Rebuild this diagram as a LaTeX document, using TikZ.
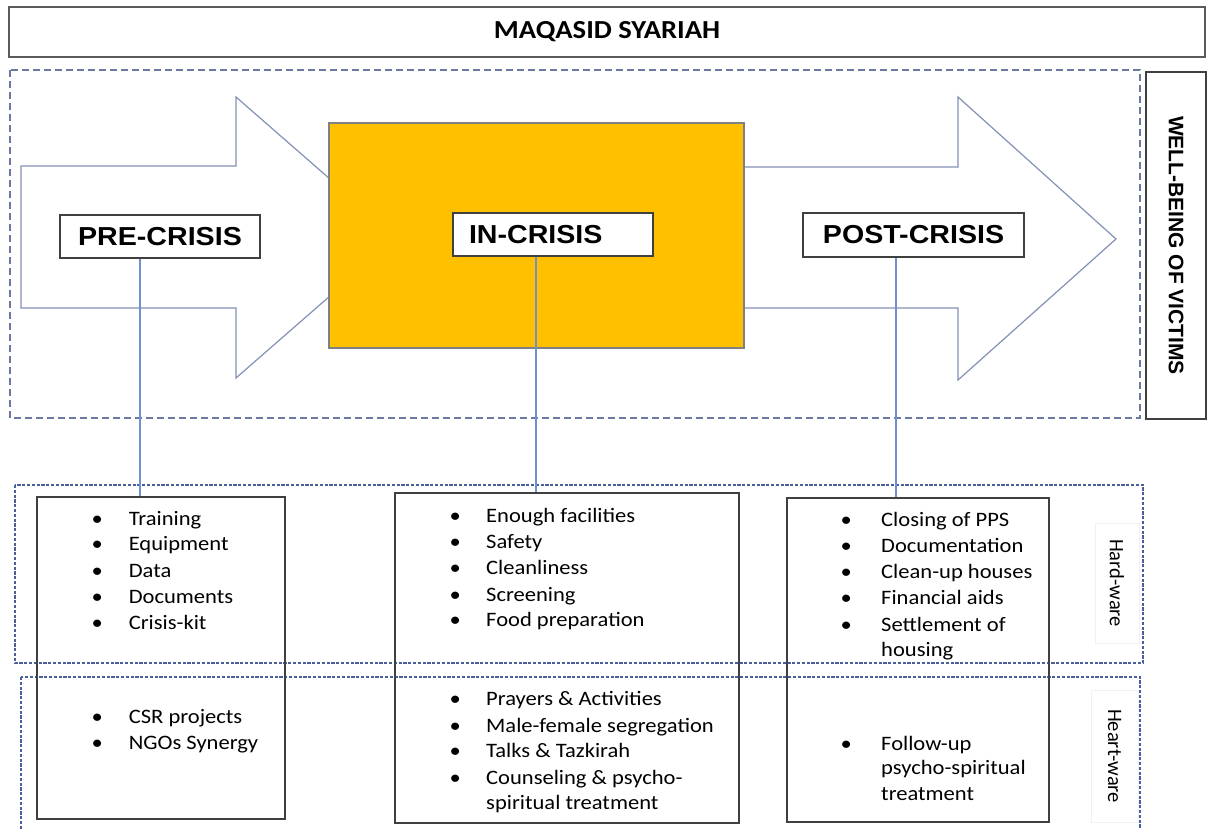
\documentclass[tikz,border=0pt]{standalone}
\usepackage{fontspec}
\newfontfamily\hfont[FakeStretch=1.1]{Liberation Sans}
\newfontfamily\wfont{Liberation Sans}
\newfontfamily\bfont[FakeStretch=1.1]{Carlito}
\newfontfamily\rfont{Carlito}
\definecolor{boxgray}{HTML}{404040}
\definecolor{titlegray}{HTML}{5A5A5A}
\definecolor{linkblue}{HTML}{7090CF}
\definecolor{arrowgray}{HTML}{8391B6}
\definecolor{dashgray}{HTML}{6B7BA0}
\definecolor{dashblue}{HTML}{4A5F9C}
\definecolor{crisisyellow}{HTML}{FFC000}
\definecolor{faint}{HTML}{F1F1F1}
\begin{document}
\begin{tikzpicture}[x=1pt,y=-1pt,
  title/.style={draw=titlegray, line width=1.3pt, fill=white, inner sep=0,
    minimum width=1196pt, minimum height=50pt,
    font=\bfont\bfseries\fontsize{26}{30}\selectfont},
  phase/.style={draw=boxgray, line width=1.2pt, fill=white, inner sep=0,
    font=\hfont\bfseries\fontsize{26}{30}\selectfont},
  listbox/.style={draw=boxgray, line width=1.2pt, inner sep=0},
  item/.style={anchor=base west, inner sep=0,
    font=\bfont\fontsize{20.5}{26}\selectfont},
  connector/.style={draw=linkblue, line width=1.2pt},
  bigarrow/.style={draw=arrowgray, line width=1.2pt, fill=white, line join=miter},
  topdash/.style={draw=dashgray, line width=1.2pt, dash pattern=on 7pt off 4pt},
  botdash/.style={draw=dashblue, line width=1.4pt, dash pattern=on 3.2pt off 1.6pt},
  sidelabel/.style={rotate=-90, draw=faint, line width=0.6pt, inner sep=0,
    font=\rfont\fontsize{20.5}{24}\selectfont},
  goalbox/.style={rotate=-90, draw=boxgray, line width=1.2pt, fill=white, inner sep=0,
    font=\wfont\bfseries\fontsize{21}{24}\selectfont}
]
\useasboundingbox (0,0) rectangle (1207,829);
\clip (0,0) rectangle (1207,829);

% upper dashed frame
\draw[topdash] (10,70) rectangle (1140,418);

% big arrows
\draw[bigarrow] (600,167) -- (958,167) -- (958,97) -- (1116,239) -- (958,380) -- (958,308) -- (600,308) -- cycle;
\draw[bigarrow] (21,166) -- (236,166) -- (236,97) -- (397,237.5) -- (236,378) -- (236,308) -- (21,308) -- cycle;

% in-crisis yellow block
\node[draw=gray, line width=1.2pt, fill=crisisyellow, inner sep=0,
  minimum width=415pt, minimum height=225pt] (ybox) at (536.5,235.5) {};

% title and goal
\node[title] (title) at (607,32) {MAQASID SYARIAH};
\node[goalbox, minimum width=347pt, minimum height=60pt] (goal) at (1176,245.5) {WELL-BEING OF VICTIMS};

% phase labels
\node[phase, minimum width=200pt, minimum height=43pt] (pre) at (160,236.5) {PRE-CRISIS};
\node[phase, minimum width=200pt, minimum height=43pt] (in) at (553,234.5) {\makebox[168pt][l]{IN-CRISIS}};
\node[phase, minimum width=221pt, minimum height=44pt] (post) at (913.5,235) {POST-CRISIS};

% lower dashed bands
\draw[botdash] (15,485) rectangle (1143,663);
\draw[botdash] (21,677) rectangle (1140,860);

% list boxes
\node[listbox, minimum width=248pt, minimum height=322pt] (lb) at (161,658) {};
\node[listbox, minimum width=344pt, minimum height=330pt] (mb) at (567,658) {};
\node[listbox, minimum width=262pt, minimum height=324pt] (rb) at (918,660) {};

% connectors
\draw[connector] ([xshift=-20pt]pre.south) -- ([xshift=-20pt]pre.south |- lb.north);
\draw[connector] ([xshift=-17pt]in.south) -- ([xshift=-17pt]in.south |- mb.north);
\draw[connector] ([xshift=-17.5pt]post.south) -- ([xshift=-17.5pt]post.south |- rb.north);

% items
\foreach \yy/\bb/\tt [count=\i] in {525/•/Training, 550/•/Equipment, 577/•/Data,
  603/•/Documents, 629/•/Crisis-kit, 723/•/CSR projects, 749/•/NGOs Synergy}
  \node[item] (l\i) at (97,\yy) {\makebox[0pt]{\bb}\hspace{31.6pt}\tt};
\foreach \yy/\bb/\tt [count=\i] in {522/•/Enough facilities, 548/•/Safety,
  574/•/Cleanliness, 601/•/Screening, 626/•/Food preparation,
  705/•/Prayers \& Activities, 732/•/Male-female segregation,
  757/•/Talks \& Tazkirah, 784/•/Counseling \& psycho-, 809/{}/spiritual treatment}
  \node[item] (m\i) at (455,\yy) {\makebox[0pt]{\bb}\hspace{31pt}\tt};
\foreach \yy/\bb/\tt [count=\i] in {526/•/Closing of PPS, 552/•/Documentation,
  578/•/Clean-up houses, 604/•/Financial aids, 631/•/Settlement of,
  656/{}/housing, 750/•/Follow-up, 774/{}/psycho-spiritual, 800/{}/treatment}
  \node[item] (r\i) at (846,\yy) {\makebox[0pt]{\bb}\hspace{35pt}\tt};

% side labels
\node[sidelabel, minimum width=120pt, minimum height=44pt] (hard) at (1117,583) {Hard-ware};
\node[sidelabel, minimum width=132pt, minimum height=47pt] (heart) at (1114.5,756) {Heart-ware};
\end{tikzpicture}
\end{document}
